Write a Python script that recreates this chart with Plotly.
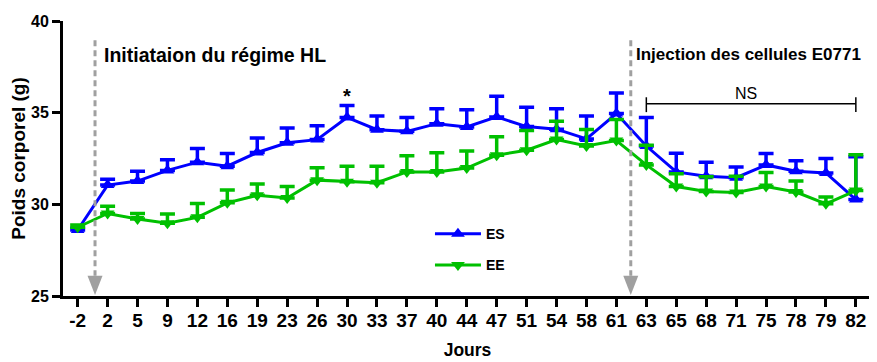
import plotly.graph_objects as go

days = [-2, 2, 5, 9, 12, 16, 19, 23, 26, 30, 33, 37, 40, 44, 47, 51, 54, 58, 61,
        63, 65, 68, 71, 75, 78, 79, 82]
day_labels = [str(d) for d in days]

es_mean = [28.6, 31.05, 31.27, 31.85, 32.3, 32.08, 32.83, 33.36, 33.53, 34.74, 34.07, 33.98,
           34.4, 34.22, 34.77, 34.24, 34.1, 33.57, 34.95, 33.18, 31.77, 31.53, 31.45, 32.15,
           31.8, 31.71, 30.26]
es_err = [0.1, 0.32, 0.53, 0.58, 0.74, 0.69, 0.79, 0.8, 0.76, 0.65, 0.75, 0.76, 0.82, 0.94,
          1.12, 1.06, 1.12, 1.25, 1.12, 1.56, 1.02, 0.77, 0.58, 0.62, 0.58, 0.79, 2.34]

ee_mean = [28.75, 29.5, 29.2, 28.97, 29.29, 30.08, 30.49, 30.35, 31.32, 31.23, 31.18, 31.77,
           31.77, 31.98, 32.68, 32.95, 33.53, 33.18, 33.48, 32.15, 30.97, 30.7, 30.65, 30.97,
           30.67, 30.03, 30.75]
ee_err = [0.12, 0.4, 0.3, 0.5, 0.75, 0.7, 0.62, 0.62, 0.68, 0.85, 0.9, 0.88, 1.05, 0.93, 1.0,
          1.08, 1.0, 0.9, 1.15, 1.07, 0.7, 0.8, 0.88, 0.76, 0.6, 0.37, 1.95]

series_names = ["ES", "EE"]
y_ticks = [25, 30, 35, 40]

# event markers (category index positions): line position, label, label start, label font size
events = [(0.58, "Initiataion du régime HL", 0.81, 19.5),
          (18.48, "Injection des cellules E0771", 18.59, 17)]
X_RANGE = [-0.49, 26.54]

BLUE = "#0000FF"
GREEN = "#00C000"
GRAY = "#A0A0A0"
FONT = "Liberation Sans"

fig = go.Figure()
fig.add_trace(go.Scatter(
    x=day_labels, y=es_mean, name=series_names[0], mode="lines+markers",
    line=dict(color=BLUE, width=3),
    marker=dict(symbol="triangle-up", size=12, color=BLUE),
    error_y=dict(type="data", symmetric=False, array=es_err, arrayminus=[0] * len(es_err),
                 color=BLUE, thickness=3.5, width=7.5),
    legendgroup="a",
))
fig.add_trace(go.Scatter(
    x=day_labels, y=ee_mean, name=series_names[1], mode="lines+markers",
    line=dict(color=GREEN, width=3),
    marker=dict(symbol="triangle-down", size=12, color=GREEN),
    error_y=dict(type="data", symmetric=False, array=ee_err, arrayminus=[0] * len(ee_err),
                 color=GREEN, thickness=3.5, width=7.5),
    legendgroup="b",
))

PLOT_W = 809


def to_paper(idx):
    return (idx - X_RANGE[0]) / (X_RANGE[1] - X_RANGE[0])


shapes = []
annotations = []
for xi, label, tx, fs in events:
    shapes.append(dict(type="line", xref="x", yref="y", x0=xi, x1=xi, y0=38.95, y1=26.1,
                       line=dict(color=GRAY, width=3, dash="6px,4px")))
    px = to_paper(xi)
    hw = 7.5 / PLOT_W
    shapes.append(dict(type="path", xref="paper", yref="y",
                       path=f"M {px - hw} 26.1 L {px + hw} 26.1 L {px} 25.05 Z",
                       fillcolor=GRAY, line=dict(color=GRAY, width=0)))
    annotations.append(dict(x=tx, y=38.15, xref="x", yref="y", text=label, showarrow=False,
                            xanchor="left", yanchor="middle",
                            font=dict(family=FONT, size=fs, color="black", weight="bold")))

# significance markers
annotations.append(dict(x=9, y=35.92, xref="x", yref="y", text="*", showarrow=False,
                        font=dict(family=FONT, size=20, color="black", weight="bold")))
annotations.append(dict(x=22.33, y=36.05, xref="x", yref="y", text="NS", showarrow=False,
                        font=dict(family=FONT, size=16, color="black")))
shapes.append(dict(type="line", xref="x", yref="y", x0=19, x1=26, y0=35.48, y1=35.48,
                   line=dict(color="black", width=1.5)))
for bx in (19, 26):
    shapes.append(dict(type="line", xref="x", yref="y", x0=bx, x1=bx, y0=35.84, y1=35.03,
                       line=dict(color="black", width=1.5)))

fig.update_layout(
    width=869, height=354,
    margin=dict(l=55, r=5, t=10, b=62),
    paper_bgcolor="white", plot_bgcolor="white",
    font=dict(family=FONT, color="black"),
    shapes=shapes, annotations=annotations,
    showlegend=True,
    legend=dict(x=0.4536, y=0.283, xanchor="left", yanchor="top", bgcolor="rgba(0,0,0,0)",
                font=dict(family=FONT, size=14, color="black", weight="bold"),
                traceorder="grouped", tracegroupgap=10, itemwidth=46),
    xaxis=dict(type="category", range=X_RANGE, showline=True, linewidth=3, linecolor="black",
               ticks="outside", ticklen=8, tickwidth=3, tickcolor="black",
               tickfont=dict(family=FONT, size=19, color="black", weight="bold"),
               ticklabelstandoff=-3,
               showgrid=False, zeroline=False,
               title=dict(text="Jours", font=dict(family=FONT, size=17.5, color="black", weight="bold"),
                          standoff=14)),
    yaxis=dict(range=[25, 40], tickvals=y_ticks, showline=True, linewidth=3, linecolor="black",
               ticks="outside", ticklen=8, tickwidth=3, tickcolor="black",
               tickfont=dict(family=FONT, size=16, color="black", weight="bold"),
               showgrid=False, zeroline=False,
               title=dict(text="Poids corporel (g)",
                          font=dict(family=FONT, size=19, color="black", weight="bold"),
                          standoff=1)),
)

fig.write_html("out.html")
